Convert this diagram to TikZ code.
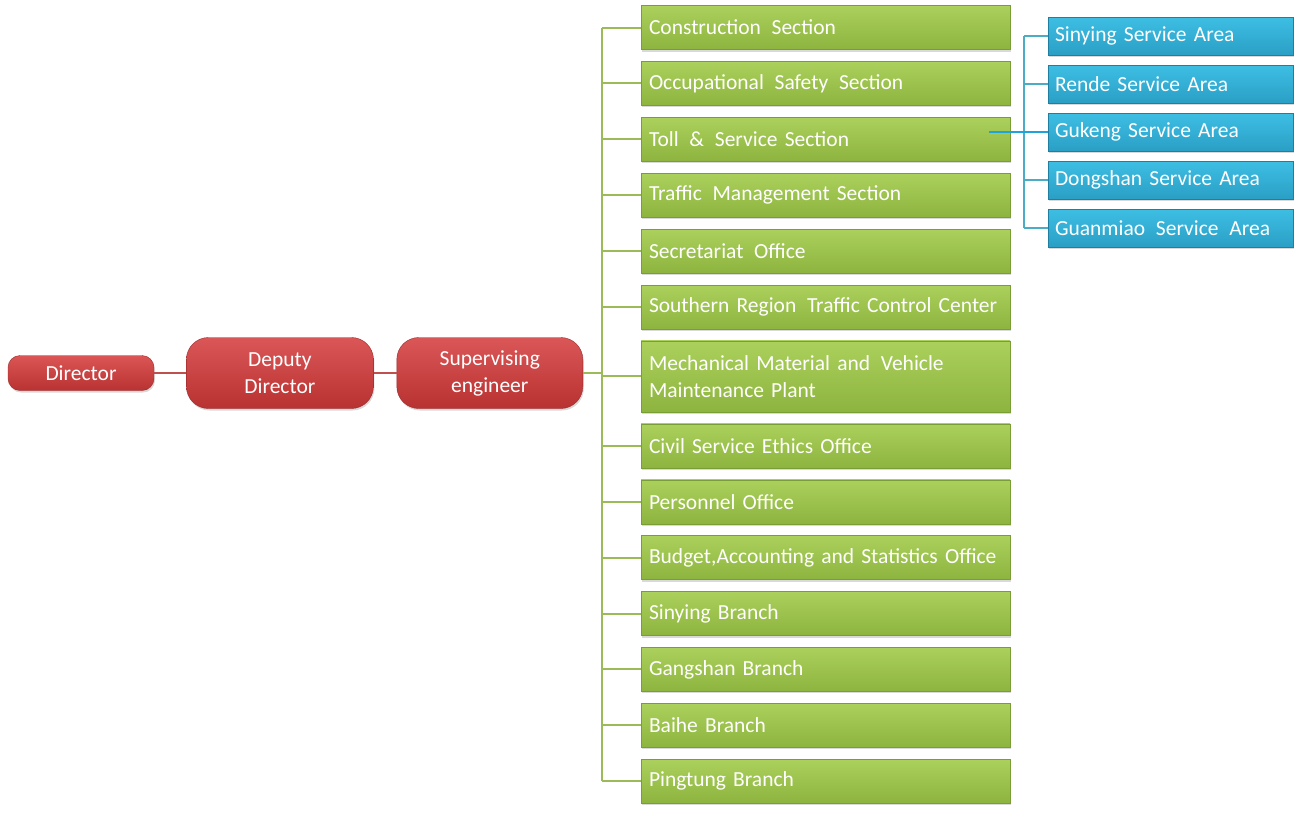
\documentclass[tikz,border=0pt]{standalone}
\usepackage{fontspec}
\setmainfont{Carlito}
\usepackage{tikz}
\usetikzlibrary{positioning, shadows}
\definecolor{redtop}{HTML}{DB5656}
\definecolor{redbot}{HTML}{B83232}
\definecolor{rededge}{HTML}{9A2A2A}
\definecolor{greentop}{HTML}{ABD15C}
\definecolor{greenbot}{HTML}{8DB43F}
\definecolor{greenedge}{HTML}{7A9E36}
\definecolor{bluetop}{HTML}{3EBEE3}
\definecolor{bluebot}{HTML}{2A9FC6}
\definecolor{blueedge}{HTML}{1E7FA0}
\definecolor{redline}{HTML}{C0504D}
\definecolor{greenline}{HTML}{9BBB59}
\definecolor{blueline}{HTML}{4BACC6}
\definecolor{tollline}{HTML}{1FA3DB}
\tikzset{
		boxfont/.style={font=\fontsize{21.5}{27}\selectfont},
		boss/.style={boxfont, draw=rededge, top color=redtop, bottom color=redbot,
			text=white, align=center, rounded corners=22pt, minimum height=71pt,
			drop shadow={opacity=0.3, shadow xshift=1pt, shadow yshift=-2pt}},
		section/.style={boxfont, draw=greenedge, top color=greentop, bottom color=greenbot,
			text=white, align=left, text width=353pt, inner xsep=8pt, minimum height=44pt,
			drop shadow={opacity=0.3, shadow xshift=1pt, shadow yshift=-2pt}},
		area/.style={boxfont, draw=blueedge, top color=bluetop, bottom color=bluebot,
			text=white, align=left, text width=231pt, inner xsep=7pt, minimum height=38pt,
			drop shadow={opacity=0.3, shadow xshift=1pt, shadow yshift=-2pt}},
		redlink/.style={draw=redline, line width=1.5pt},
		greenlink/.style={draw=greenline, line width=2pt},
		bluelink/.style={draw=blueline, line width=2pt}
	}
\begin{document}
\begin{tikzpicture}[x=1pt, y=-1pt]
		\useasboundingbox (0,0) rectangle (1308,820);

		\node[boss, minimum width=146pt, minimum height=35pt, rounded corners=12pt] (dir) at (81,373) {Director};
		\node[boss, minimum width=187pt] (dep) [right=32pt of dir] {Deputy\\Director};
		\node[boss, minimum width=186pt] (sup) [right=23pt of dep] {Supervising\\engineer};

		\node[section] (sec1) at (825.5,27.5)        {Construction\enspace Section};
		\node[section] (sec2) [below=11.5pt of sec1]  {Occupational\enspace Safety\enspace Section};
		\node[section] (sec3) [below=11.5pt of sec2]  {Toll\enspace \&\enspace Service Section};
		\node[section] (sec4) [below=11.5pt of sec3]  {Traffic\enspace Management Section};
		\node[section] (sec5) [below=11.5pt of sec4]  {Secretariat\enspace Office};
		\node[section] (sec6) [below=11.5pt of sec5]  {Southern Region\enspace Traffic Control Center};
		\node[section, minimum height=71pt] (sec7) [below=11.5pt of sec6]
			{Mechanical Material and\enspace Vehicle\\Maintenance Plant};
		\node[section] (sec8) [below=11.5pt of sec7]  {Civil Service Ethics Office};
		\node[section] (sec9) [below=11.5pt of sec8]  {Personnel Office};
		\node[section] (sec10) [below=11.5pt of sec9]  {Budget,Accounting and Statistics Office};
		\node[section] (sec11) [below=11.5pt of sec10] {Sinying Branch};
		\node[section] (sec12) [below=11.5pt of sec11] {Gangshan Branch};
		\node[section] (sec13) [below=11.5pt of sec12] {Baihe Branch};
		\node[section] (sec14) [below=11.5pt of sec13] {Pingtung Branch};

		\node[area] (sa1) at (1170.5,36)        {Sinying Service Area};
		\node[area] (sa2) [below=9.6pt of sa1]  {Rende Service Area};
		\node[area] (sa3) [below=9.6pt of sa2]  {Gukeng Service Area};
		\node[area] (sa4) [below=9.6pt of sa3]  {Dongshan Service Area};
		\node[area] (sa5) [below=9.6pt of sa4]  {Guanmiao\enspace Service\enspace Area};

		\coordinate (trunk) at (602,0);
		\coordinate (hub) at (1024,0);
		\coordinate (tollend) at ([xshift=-21pt]sec3.east);

		\path[redlink] (dir) edge (dep);
		\path[redlink] (dep) edge (sup);

		\path[greenlink] (sup.east) edge (trunk |- sup.east);
		\path[greenlink] (trunk |- sec1.west) edge (trunk |- sec14.west);
		\path[greenlink] (trunk |- sec1.west)  edge (sec1.west)
		                 (trunk |- sec2.west)  edge (sec2.west)
		                 (trunk |- sec3.west)  edge (sec3.west)
		                 (trunk |- sec4.west)  edge (sec4.west)
		                 (trunk |- sec5.west)  edge (sec5.west)
		                 (trunk |- sec6.west)  edge (sec6.west)
		                 (trunk |- sec7.west)  edge (sec7.west)
		                 (trunk |- sec8.west)  edge (sec8.west)
		                 (trunk |- sec9.west)  edge (sec9.west)
		                 (trunk |- sec10.west) edge (sec10.west)
		                 (trunk |- sec11.west) edge (sec11.west)
		                 (trunk |- sec12.west) edge (sec12.west)
		                 (trunk |- sec13.west) edge (sec13.west)
		                 (trunk |- sec14.west) edge (sec14.west);

		\path[bluelink] (hub |- sa1.west) edge (hub |- sa5.west);
		\path[bluelink] (hub |- sa1.west) edge (sa1.west)
		                (hub |- sa2.west) edge (sa2.west)
		                (hub |- sa4.west) edge (sa4.west)
		                (hub |- sa5.west) edge (sa5.west);
		\path[bluelink, draw=tollline] (tollend |- sa3.west) edge (sa3.west);
	\end{tikzpicture}
\end{document}
